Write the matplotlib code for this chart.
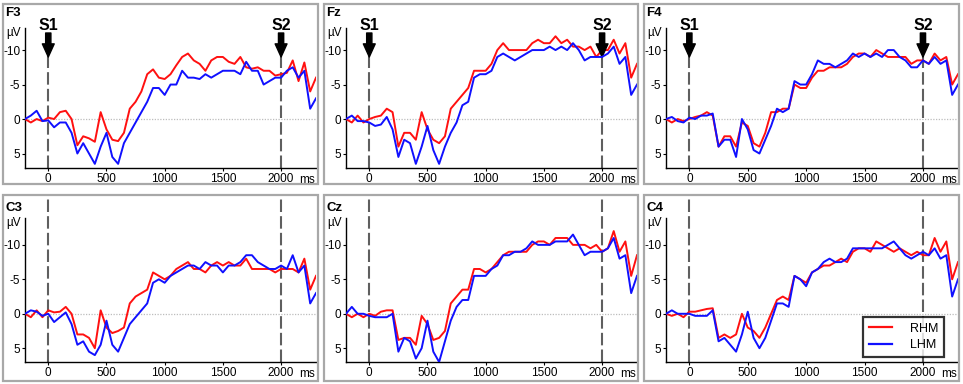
import numpy as np
import matplotlib
matplotlib.use("Agg")
import matplotlib.pyplot as plt
from matplotlib.patches import Rectangle

plt.rcParams['axes.unicode_minus'] = False
plt.rcParams['font.family'] = ['Liberation Sans', 'DejaVu Sans']

# ---------------- data (µV, negative plotted upward) ----------------
time_ms = list(range(-200, 2301, 50))

channels = ["F3", "Fz", "F4", "C3", "Cz", "C4"]

F3_RHM = [0, 0.5, 0, 0.3, -0.2, 0, -1.0, -1.2, 0, 3.8, 2.5, 2.8, 3.3, -1.0, 1.5, 3.0, 3.2, 2.0, -1.5, -2.5,
          -4.0, -6.5, -7.2, -6.0, -5.8, -6.5, -7.8, -9.0, -9.5, -8.5, -8.0, -7.0, -8.5, -9.0, -9.0, -8.3, -8.0,
          -9.0, -7.5, -7.3, -7.5, -7.0, -7.0, -6.3, -6.5, -6.7, -8.5, -5.5, -8.2, -4.0, -6.0]
F3_LHM = [0, -0.5, -1.2, 0.3, 0.2, 1.2, 0.5, 0.5, 2.0, 5.0, 3.5, 5.0, 6.5, 4.0, 2.0, 5.5, 6.5, 3.5, 2.0, 0.5,
          -1.0, -2.5, -4.5, -4.5, -3.5, -5.0, -5.0, -7.0, -6.0, -6.0, -5.8, -6.5, -6.0, -6.5, -7.0, -7.0, -7.0,
          -6.5, -8.3, -7.0, -7.0, -5.0, -5.5, -6.0, -6.0, -7.0, -7.5, -6.0, -7.0, -1.5, -3.0]

Fz_RHM = [0, 0.5, -0.5, 0.5, 0, -0.3, -0.5, -1.5, -1.0, 4.0, 2.0, 2.0, 3.0, -1.0, 1.5, 3.0, 3.5, 2.5, -1.5, -2.5,
          -3.5, -4.5, -7.0, -7.0, -7.0, -8.0, -10.0, -11.0, -10.0, -10.0, -10.0, -10.0, -11.0, -11.5, -11.0, -11.0,
          -12.0, -11.0, -11.5, -10.5, -10.5, -10.0, -10.5, -9.0, -10.0, -10.0, -11.5, -9.5, -11.0, -6.0, -8.0]
Fz_LHM = [0, -0.5, 0.3, 0.3, 0.5, 1.0, 0.8, -0.3, 1.5, 5.5, 3.0, 3.5, 6.5, 4.0, 1.0, 4.5, 6.5, 4.0, 2.0, 0.5,
          -2.0, -2.5, -6.0, -6.5, -6.5, -7.0, -9.0, -9.5, -9.0, -8.5, -9.0, -9.5, -10.0, -10.0, -10.0, -10.5,
          -10.0, -10.5, -10.0, -11.0, -10.0, -8.5, -9.0, -9.0, -9.0, -9.5, -10.5, -8.0, -9.0, -3.5, -5.0]

F4_RHM = [0, 0.5, 0, 0.3, 0, -0.3, -0.5, -1.0, -0.5, 4.0, 2.5, 2.5, 4.0, 0.5, 1.0, 3.5, 4.0, 2.0, -1.0, -1.0,
          -1.5, -1.5, -5.0, -4.5, -4.5, -6.0, -7.0, -7.0, -7.5, -7.5, -7.5, -8.0, -9.0, -9.5, -9.5, -9.0, -10.0,
          -9.5, -9.0, -9.0, -9.0, -9.0, -8.0, -8.5, -8.5, -8.0, -9.5, -8.5, -9.0, -5.0, -6.5]
F4_LHM = [0, -0.3, 0.3, 0.5, -0.2, 0, -0.5, -0.5, -0.8, 4.0, 3.0, 3.0, 5.5, 0, 1.5, 4.5, 5.0, 3.0, 1.0, -1.5,
          -1.0, -1.5, -5.5, -5.0, -5.0, -6.5, -8.5, -8.0, -8.0, -7.5, -8.0, -8.5, -9.5, -9.0, -9.5, -9.0, -9.5,
          -9.0, -10.0, -10.0, -9.0, -8.5, -7.5, -7.5, -8.5, -8.0, -9.0, -8.0, -8.5, -3.5, -5.0]

C3_RHM = [0, 0.5, -0.5, 0.5, -0.5, -0.2, -0.3, -1.0, 0, 3.0, 3.0, 3.5, 5.0, -0.5, 2.0, 2.8, 2.5, 2.0, -1.5, -2.5,
          -3.0, -3.5, -6.0, -5.5, -5.0, -5.5, -6.5, -7.0, -7.5, -6.5, -6.5, -6.0, -7.0, -7.5, -7.0, -7.5, -7.0,
          -7.0, -8.0, -6.5, -6.5, -6.5, -6.5, -6.0, -6.5, -6.5, -6.5, -6.0, -8.0, -3.5, -5.5]
C3_LHM = [0, -0.5, -0.3, 0.3, 0, 1.2, 0.5, -0.2, 1.5, 4.5, 4.0, 5.5, 6.0, 4.5, 1.0, 4.5, 5.5, 3.5, 1.5, 0.5,
          -0.5, -1.5, -4.5, -5.0, -4.5, -5.5, -6.0, -6.5, -7.0, -7.0, -6.5, -7.5, -7.0, -7.0, -6.0, -7.0, -7.0,
          -7.5, -8.5, -8.5, -7.5, -7.0, -6.5, -6.5, -7.0, -6.5, -8.5, -6.0, -7.0, -1.5, -3.0]

Cz_RHM = [0, 0.5, 0, 0.5, 0, 0.3, -0.3, -0.5, -0.5, 3.8, 3.5, 3.5, 4.5, 0.3, 1.5, 3.8, 3.5, 2.5, -1.5, -2.5,
          -3.5, -3.5, -6.5, -6.5, -6.0, -6.5, -7.5, -8.5, -9.0, -9.0, -9.0, -9.0, -10.0, -10.5, -10.5, -10.0,
          -11.0, -11.0, -11.0, -10.0, -10.0, -10.0, -9.5, -10.0, -9.0, -9.5, -12.0, -9.0, -10.5, -5.5, -8.5]
Cz_LHM = [0, -1.0, 0, 0, 0.3, 0.5, 0.5, 0.5, 0, 5.5, 3.5, 4.0, 6.5, 5.0, 1.0, 5.5, 7.0, 4.0, 1.0, -1.0,
          -2.0, -2.0, -5.5, -5.5, -5.5, -6.5, -7.0, -8.5, -8.5, -9.0, -9.0, -9.5, -10.5, -10.0, -10.0, -10.0,
          -10.5, -10.5, -10.5, -11.5, -10.0, -8.5, -9.0, -9.0, -9.0, -9.5, -11.0, -8.0, -8.5, -3.0, -5.5]

C4_RHM = [0, 0.3, 0, 0.5, -0.3, -0.3, -0.5, -0.7, -0.8, 3.5, 3.0, 3.5, 3.0, 0, 2.0, 2.5, 3.5, 2.0, 0, -2.0,
          -2.5, -2.0, -5.5, -5.0, -4.5, -6.0, -6.5, -7.0, -7.0, -7.5, -8.0, -7.5, -9.0, -9.5, -9.5, -9.0, -10.5,
          -10.0, -9.5, -9.0, -9.5, -9.0, -8.5, -9.0, -8.5, -8.5, -11.0, -9.0, -10.5, -5.0, -7.5]
C4_LHM = [0, -0.5, 0, 0, 0, 0.3, 0.3, 0.3, -0.5, 4.0, 3.5, 4.5, 5.5, 3.0, -0.3, 3.5, 5.0, 3.5, 1.0, -1.5,
          -1.5, -1.0, -5.5, -5.0, -4.0, -6.0, -6.5, -7.5, -8.0, -7.5, -7.5, -8.0, -9.5, -9.5, -9.5, -9.5, -9.5,
          -9.5, -10.0, -10.5, -9.5, -8.5, -8.0, -8.5, -9.0, -8.5, -9.5, -8.0, -8.5, -2.5, -5.0]

rhm_series = [F3_RHM, Fz_RHM, F4_RHM, C3_RHM, Cz_RHM, C4_RHM]
lhm_series = [F3_LHM, Fz_LHM, F4_LHM, C3_LHM, Cz_LHM, C4_LHM]

series_names = ["RHM", "LHM"]
y_ticks = [-10, -5, 0, 5]
y_ticklabels = ["-10", "-5", "0", "5"]
x_ticks = [0, 500, 1000, 1500, 2000]
x_ticklabels = ["0", "500", "1000", "1500", "2000"]
stim_times = [0, 2000]
stim_labels = ["S1", "S2"]

# ---------------- layout ----------------
W, H = 963, 384
fig = plt.figure(figsize=(W / 100, H / 100), dpi=100)


def fx(px):
    return px / W


def fy(py):
    return 1 - py / H


col_left = [25, 346, 666]
col_right = [316, 637, 958]
row_top = [28, 218]
row_bot = [168, 362]
row_ylim = [(7.1, -13.2), (7.0, -13.9)]
panel_x = [(3, 318), (324, 638), (644, 959)]
panel_y = [(4, 184), (195, 381)]

RED = "#ff1010"
BLUE = "#1010ff"

for i, ch in enumerate(channels):
    r, c = divmod(i, 3)
    # outer gray frame
    x0, x1 = panel_x[c]
    y0, y1 = panel_y[r]
    fig.patches.append(Rectangle((fx(x0), fy(y1)), fx(x1 - x0), (y1 - y0) / H,
                                 transform=fig.transFigure, fill=False,
                                 edgecolor="#a8a8a8", lw=1.6, zorder=0))

    ax = fig.add_axes([fx(col_left[c]), fy(row_bot[r]),
                       fx(col_right[c] - col_left[c]), (row_bot[r] - row_top[r]) / H])
    ax.set_xlim(-200, 2300)
    ax.set_ylim(*row_ylim[r])
    ax.patch.set_alpha(0)
    for s in ["top", "right"]:
        ax.spines[s].set_visible(False)
    for s in ["left", "bottom"]:
        ax.spines[s].set_linewidth(1.0)
    ax.set_yticks(y_ticks)
    ax.set_yticklabels(y_ticklabels)
    ax.set_xticks(x_ticks)
    ax.set_xticklabels(x_ticklabels)
    ax.tick_params(axis="both", labelsize=8.5, length=2, width=0.8, pad=1.5, colors="black")

    # zero line
    ax.axhline(0, color="#bdbdbd", lw=0.9, ls=(0, (1, 1.2)), zorder=1)

    # stimulus lines
    line_top_px = 56 if r == 0 else 197
    top_frac = (row_bot[r] - line_top_px) / (row_bot[r] - row_top[r])
    for t in stim_times:
        ax.plot([t, t], [0, top_frac], transform=ax.get_xaxis_transform(),
                color="#5f5f5f", lw=1.5, dashes=(6, 2), clip_on=False, zorder=2)

    ax.plot(time_ms, rhm_series[i], color=RED, lw=1.4, zorder=3, label=series_names[0])
    ax.plot(time_ms, lhm_series[i], color=BLUE, lw=1.4, zorder=4, label=series_names[1])

    # labels
    fig.text(fx(col_left[c] - 20), fy(row_top[r] - (21 if r == 0 else 16)), ch,
             fontsize=9.5, fontweight="bold", ha="left", va="top")
    fig.text(fx(col_left[c] - 19), fy(row_top[r] - 1), "µV",
             fontsize=8.5, ha="left", va="top")
    ax.text(2225, -0.045, "ms", transform=ax.get_xaxis_transform(),
            fontsize=8.5, ha="center", va="top")

    # S1/S2 arrows (top row)
    if r == 0:
        hgt = row_bot[r] - row_top[r]
        for t, lab in zip(stim_times, stim_labels):
            ax.annotate("", xy=(t, (row_bot[r] - 57) / hgt),
                        xytext=(t, (row_bot[r] - 33) / hgt),
                        xycoords=ax.get_xaxis_transform(), textcoords=ax.get_xaxis_transform(),
                        arrowprops=dict(arrowstyle="simple,head_width=0.95,head_length=1.05,tail_width=0.42",
                                        color="black", mutation_scale=9, shrinkA=0, shrinkB=0),
                        annotation_clip=False)
            ax.text(t, (row_bot[r] - 26) / hgt, lab,
                    transform=ax.get_xaxis_transform(), fontsize=11.5, fontweight="bold",
                    ha="center", va="center", clip_on=False)

    if i == 5:
        leg = ax.legend(loc="upper left", bbox_to_anchor=(fx(863), fy(317)),
                        bbox_transform=fig.transFigure, borderaxespad=0,
                        fontsize=9, frameon=True, fancybox=False, handlelength=1.9,
                        handletextpad=1.4, borderpad=0.45, labelspacing=0.35)
        leg.get_frame().set_edgecolor("black")
        leg.get_frame().set_linewidth(1.6)
        for line in leg.get_lines():
            line.set_linewidth(1.6)

fig.savefig("out.png", dpi=100)
